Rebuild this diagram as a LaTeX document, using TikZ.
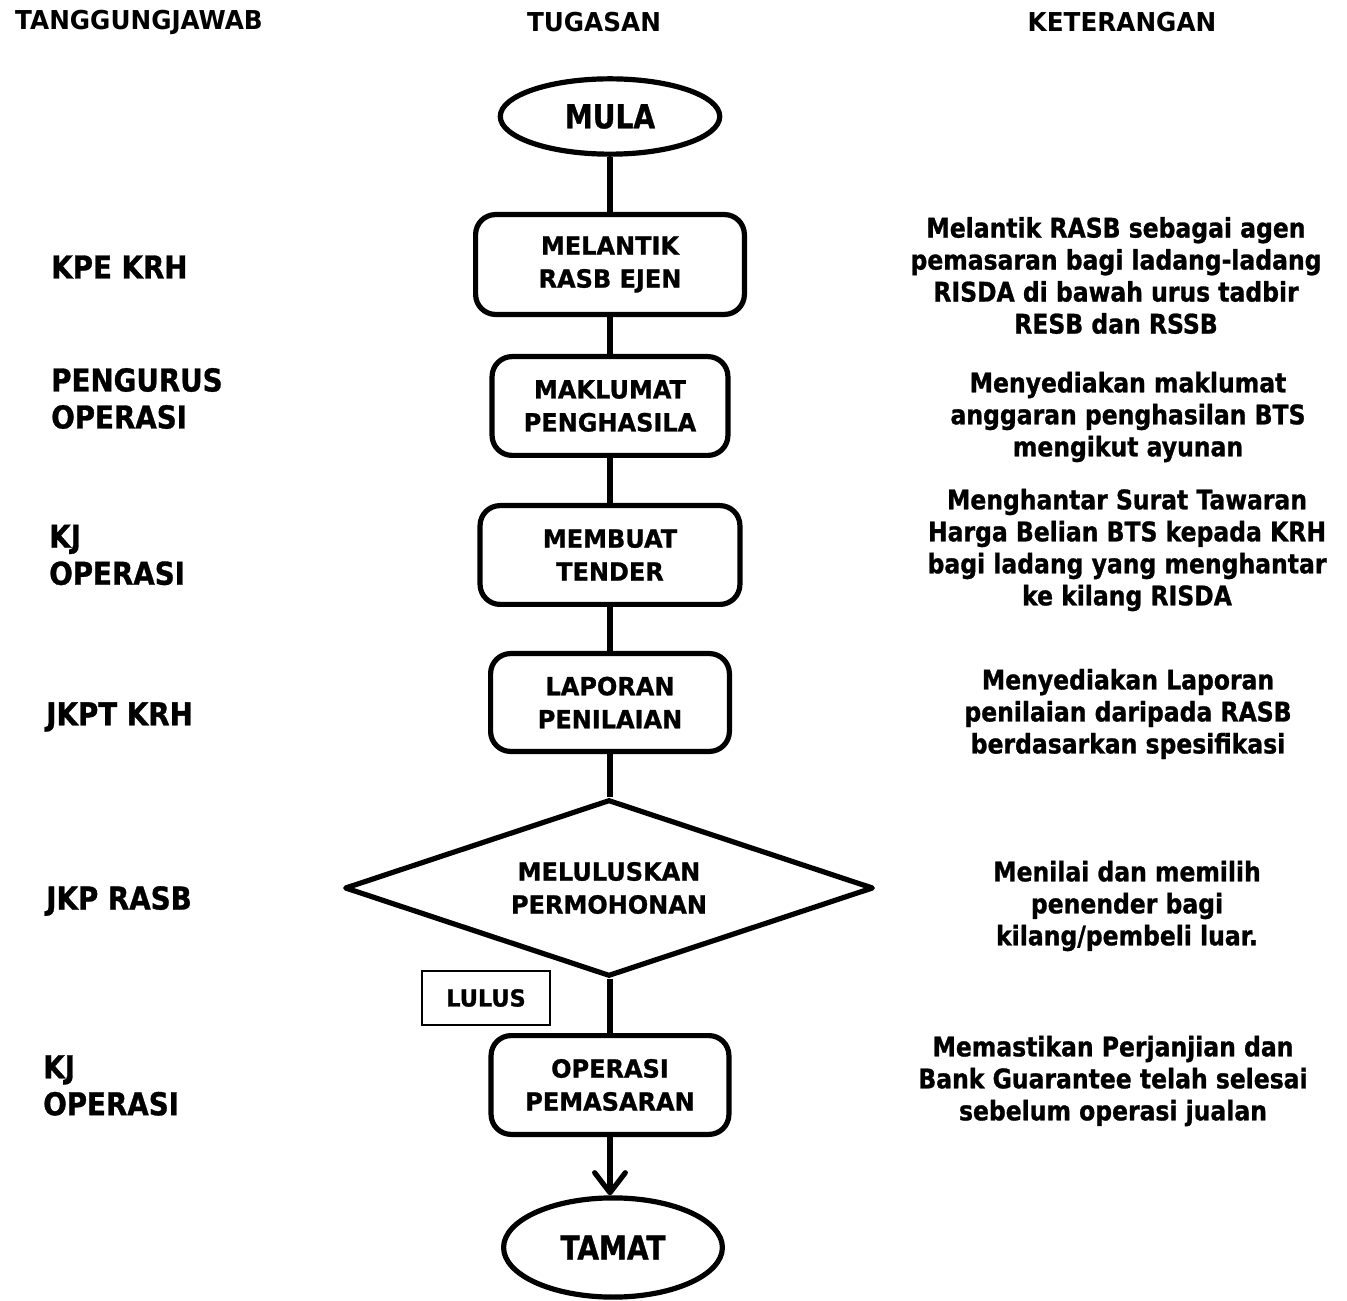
\documentclass[tikz,border=0pt]{standalone}
\usepackage{fontspec}
\usetikzlibrary{shapes.geometric,arrows.meta}

% bold sans faces, lightly condensed and thickened per text group
\newfontfamily\hdfam[FakeStretch=0.95]{DejaVu Sans}
\newfontfamily\lblfam[FakeStretch=0.88,FakeBold=1]{DejaVu Sans}
\newfontfamily\bxfam[FakeStretch=0.96,FakeBold=1]{DejaVu Sans}
\newfontfamily\tmfam[FakeStretch=0.85,FakeBold=1]{DejaVu Sans}
\newfontfamily\dsfam[FakeStretch=0.87,FakeBold=1]{DejaVu Sans}

\newcommand\hdFont{\hdfam\bfseries\fontsize{19.5pt}{23pt}\selectfont}
\newcommand\lblFont{\lblfam\bfseries\fontsize{23.6pt}{27.75pt}\selectfont}
\newcommand\bxFont{\bxfam\bfseries\fontsize{18.75pt}{24.75pt}\selectfont}
\newcommand\tmFont{\tmfam\bfseries\fontsize{24.75pt}{28pt}\selectfont}
\newcommand\luFont{\bxfam\bfseries\fontsize{17.5pt}{20pt}\selectfont}
\newcommand\dsFont{\dsfam\bfseries\fontsize{20.25pt}{24pt}\selectfont}

\begin{document}
\begin{tikzpicture}[x=0.75pt,y=-0.75pt,
  flow/.style={draw, line width=3.9pt, inner sep=0pt, align=center, line join=round},
  stepbox/.style={flow, rectangle, rounded corners=15pt, font=\bxFont},
  term/.style={flow, ellipse, font=\tmFont},
  decide/.style={flow, diamond, font=\bxFont},
  tag/.style={draw, line width=1.5pt, inner sep=0pt, font=\luFont},
  head/.style={inner sep=0pt, font=\hdFont},
  who/.style={inner sep=0pt, anchor=west, align=left, font=\lblFont},
  note/.style={inner sep=0pt, align=center, font=\dsFont},
  link/.style={line width=3.9pt},
  arrowlink/.style={line width=3.9pt, -{Straight Barb[length=15pt,width=23pt,round]}}
]
\useasboundingbox (0,0) rectangle (1347,1301);

% column headings
\node[head] (h1) at (139,22) {TANGGUNGJAWAB};
\node[head] (h2) at (594,22) {TUGASAN};
\node[head] (h3) at (1122,22) {KETERANGAN};

% flow of tasks
\node[term, minimum width=164.6pt, minimum height=56.5pt] (mula) at (610,116.5) {MULA};
\node[stepbox, minimum width=201.6pt, minimum height=74.9pt] (b1) at (610,264.5) {MELANTIK\\RASB EJEN};
\node[stepbox, minimum width=176.9pt, minimum height=74.1pt] (b2) at (610,406) {MAKLUMAT\\PENGHASILA};
\node[stepbox, minimum width=194.9pt, minimum height=74.1pt] (b3) at (610,555) {MEMBUAT\\TENDER};
\node[stepbox, minimum width=179.1pt, minimum height=73.4pt] (b4) at (610,702.5) {LAPORAN\\PENILAIAN};
\node[decide, minimum width=396.6pt, minimum height=132.6pt, aspect=3] (d1) at (609,888) {MELULUSKAN\\PERMOHONAN};
\node[stepbox, minimum width=178.4pt, minimum height=74.1pt] (b5) at (610,1085) {OPERASI\\PEMASARAN};
\node[term, minimum width=164.1pt, minimum height=74.4pt] (tamat) at (613,1247.5) {TAMAT};
\node[tag, minimum width=96.4pt, minimum height=40.9pt] (lulus) at (486,998) {LULUS};

\draw[link] (mula) -- (b1);
\draw[link] (b1) -- (b2);
\draw[link] (b2) -- (b3);
\draw[link] (b3) -- (b4);
\draw[link] (b4.south) -- (b4.south |- d1.north);
\draw[link] (d1.south -| b5.north) -- (b5.north);
\draw[arrowlink] (b5.south) -- (b5.south |- tamat.north);

% responsibilities
\node[who] (r1) at (51,267) {KPE KRH};
\node[who] (r2) at (51,398.5) {PENGURUS\\OPERASI};
\node[who] (r3) at (49,555) {KJ\\OPERASI};
\node[who] (r4) at (46,717) {JKPT KRH};
\node[who] (r5) at (46,901) {JKP RASB};
\node[who] (r6) at (43,1085.5) {KJ\\OPERASI};

% descriptions
\node[note] (n1) at (1116,275.5) {Melantik RASB sebagai agen\\pemasaran bagi ladang-ladang\\RISDA di bawah urus tadbir\\RESB dan RSSB};
\node[note] (n2) at (1128,417) {Menyediakan maklumat\\anggaran penghasilan BTS\\mengikut ayunan};
\node[note] (n3) at (1127,550) {Menghantar Surat Tawaran\\Harga Belian BTS kepada KRH\\bagi ladang yang menghantar\\ke kilang RISDA};
\node[note] (n4) at (1128,714) {Menyediakan Laporan\\penilaian daripada RASB\\berdasarkan spesifikasi};
\node[note] (n5) at (1127,906) {Menilai dan memilih\\penender bagi\\kilang/pembeli luar.};
\node[note] (n6) at (1113,1081) {Memastikan Perjanjian dan\\Bank Guarantee telah selesai\\sebelum operasi jualan};
\end{tikzpicture}
\end{document}
